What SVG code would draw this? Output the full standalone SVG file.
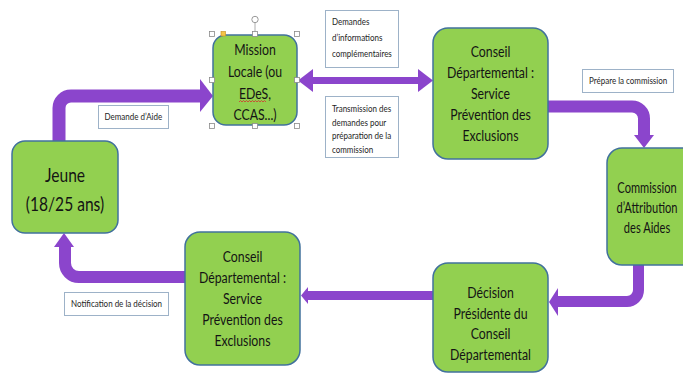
<svg xmlns="http://www.w3.org/2000/svg" width="683" height="374" viewBox="0 0 683 374">
<style>
.node{fill:#92D050;stroke:#41719C;stroke-width:1.5}
.nt{font-family:Lato,"Liberation Sans",sans-serif;font-size:15px;fill:#141414;text-anchor:middle}
.big{font-size:19px}
.lbl{fill:#fff;stroke:#9DB2C8;stroke-width:1}
.lt{font-family:Lato,"Liberation Sans",sans-serif;font-size:10px;fill:#1e1e1e}
.sh{fill:none;stroke:#8B45CC}
.hd{fill:#8B45CC}
.hdl{fill:#fff;stroke:#8a8a8a;stroke-width:0.8}
</style>
<rect width="683" height="374" fill="#fff"/>
<g id="connectors">
  <path class="sh" stroke-width="13" d="M59,141 V108 A12,12 0 0 1 71,96 H201"/>
  <polygon class="hd" points="200,79 213,96 200,112"/>
  <path class="sh" stroke-width="7" d="M312,80.5 H419"/>
  <polygon class="hd" points="298,80.5 313,69 313,92"/>
  <polygon class="hd" points="433,80.5 418,69 418,92"/>
  <path class="sh" stroke-width="12" d="M547,106.5 H632 A12,12 0 0 1 644,118.5 V136"/>
  <polygon class="hd" points="634,135 654,135 644,148"/>
  <path class="sh" stroke-width="11" d="M638.5,265 V290 A11.5,11.5 0 0 1 627,301.5 H557"/>
  <polygon class="hd" points="558,288 549,302 558,316"/>
  <path class="sh" stroke-width="9" d="M433,295.5 H307"/>
  <polygon class="hd" points="308,287 301,295.5 308,304"/>
  <path class="sh" stroke-width="12" d="M185,277 H79 A14,14 0 0 1 65,263 V246"/>
  <polygon class="hd" points="54,247 74,247 64,233"/>
</g>
<g id="lbl-demande-aide">
  <rect class="lbl" x="98.5" y="105.5" width="70" height="23"/>
  <text class="lt" transform="matrix(0.8 0 0 1 104.5 0)"><tspan x="0" y="120">Demande d’Aide</tspan></text>
</g>
<g id="lbl-demandes-info">
  <rect class="lbl" x="325.5" y="10.5" width="73" height="57"/>
  <text class="lt" transform="matrix(0.8 0 0 1 332 0)"><tspan x="0" y="25">Demandes</tspan><tspan x="0" y="41">d’informations</tspan><tspan x="0" y="57">complémentaires</tspan></text>
</g>
<g id="lbl-transmission">
  <rect class="lbl" x="325.5" y="96.5" width="73" height="61"/>
  <text class="lt" transform="matrix(0.8 0 0 1 332 0)"><tspan x="0" y="112">Transmission des</tspan><tspan x="0" y="126">demandes pour</tspan><tspan x="0" y="139.5">préparation de la</tspan><tspan x="0" y="153">commission</tspan></text>
</g>
<g id="lbl-prepare">
  <rect class="lbl" x="582.5" y="69.5" width="91" height="23"/>
  <text class="lt" transform="matrix(0.8 0 0 1 589 0)"><tspan x="0" y="84">Prépare la commission</tspan></text>
</g>
<g id="lbl-notification">
  <rect class="lbl" x="64.5" y="292.5" width="104" height="23"/>
  <text class="lt" transform="matrix(0.8 0 0 1 71 0)"><tspan x="0" y="307">Notification de la décision</tspan></text>
</g>
<g id="node-jeune">
  <rect class="node" x="12" y="141" width="106" height="92" rx="13"/>
  <text class="nt big" transform="matrix(0.82 0 0 1 65 0)"><tspan x="0" y="182">Jeune</tspan><tspan x="0" y="211">(18/25 ans)</tspan></text>
</g>
<g id="node-mission">
  <rect class="node" x="213" y="35" width="84" height="90" rx="13"/>
  <text class="nt" transform="matrix(0.82 0 0 1 255 0)"><tspan x="0" y="55">Mission</tspan><tspan x="0" y="77">Locale (ou</tspan><tspan x="0" y="99">EDeS,</tspan><tspan x="0" y="120">CCAS...)</tspan></text>
  <path d="M239,102 l1.5,-1.5 l1.5,1.5 l1.5,-1.5 l1.5,1.5 l1.5,-1.5 l1.5,1.5 l1.5,-1.5 l1.5,1.5 l1.5,-1.5 l1.5,1.5 l1.5,-1.5 l1.5,1.5 l1.5,-1.5 l1.5,1.5 l1.5,-1.5 l1.5,1.5 l1.5,-1.5 l1.5,1.5" fill="none" stroke="#d63030" stroke-width="0.8"/>
  <line x1="255" y1="23" x2="255" y2="32" stroke="#999" stroke-width="0.8"/>
  <circle cx="255" cy="19.5" r="3.2" fill="none" stroke="#999" stroke-width="1"/>
  <rect class="hdl" x="209.5" y="31.5" width="5" height="5"/>
  <rect class="hdl" x="252.5" y="31.5" width="5" height="5"/>
  <rect class="hdl" x="294.5" y="31.5" width="5" height="5"/>
  <rect class="hdl" x="209.5" y="77.5" width="5" height="5"/>
  <rect class="hdl" x="294.5" y="77.5" width="5" height="5"/>
  <rect class="hdl" x="209.5" y="123.5" width="5" height="5"/>
  <rect class="hdl" x="252.5" y="123.5" width="5" height="5"/>
  <rect class="hdl" x="294.5" y="123.5" width="5" height="5"/>
  <rect x="221" y="31.5" width="4.5" height="4.5" fill="#F6C445" stroke="#C9962A" stroke-width="0.7"/>
</g>
<g id="node-conseil-top">
  <rect class="node" x="433" y="28" width="115" height="131" rx="15"/>
  <text class="nt" transform="matrix(0.82 0 0 1 490.5 0)"><tspan x="0" y="57.5">Conseil</tspan><tspan x="0" y="78.5">Départemental :</tspan><tspan x="0" y="99.5">Service</tspan><tspan x="0" y="120.5">Prévention des</tspan><tspan x="0" y="141.5">Exclusions</tspan></text>
</g>
<g id="node-commission">
  <rect class="node" x="607" y="148" width="94" height="117" rx="15"/>
  <text class="nt" transform="matrix(0.74 0 0 1 647 0)"><tspan x="0" y="193">Commission</tspan><tspan x="0" y="213">d’Attribution</tspan><tspan x="0" y="233">des Aides</tspan></text>
</g>
<g id="node-decision">
  <rect class="node" x="433" y="263" width="115" height="109" rx="15"/>
  <text class="nt" transform="matrix(0.82 0 0 1 490.5 0)"><tspan x="0" y="298">Décision</tspan><tspan x="0" y="319">Présidente du</tspan><tspan x="0" y="339.5">Conseil</tspan><tspan x="0" y="360">Départemental</tspan></text>
</g>
<g id="node-conseil-bottom">
  <rect class="node" x="185" y="232" width="115" height="133" rx="15"/>
  <text class="nt" transform="matrix(0.82 0 0 1 242.5 0)"><tspan x="0" y="262">Conseil</tspan><tspan x="0" y="283">Départemental :</tspan><tspan x="0" y="304">Service</tspan><tspan x="0" y="325">Prévention des</tspan><tspan x="0" y="346">Exclusions</tspan></text>
</g>
</svg>
